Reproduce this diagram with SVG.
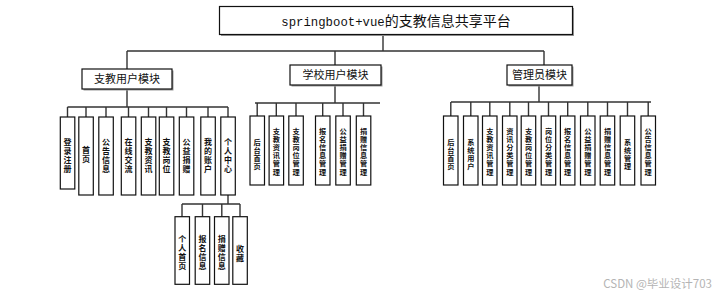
<svg xmlns="http://www.w3.org/2000/svg" width="727" height="299" viewBox="0 0 727 299">
<style>
.bg{fill:#fff}
.box{fill:#fff;stroke:#111;stroke-width:1.2}
.sh{fill:#9a9a9a}
.ln{stroke:#333;stroke-width:1.4;fill:none}
.t1{font-family:"Noto Sans CJK SC","Noto Sans",sans-serif;font-size:14px;fill:#111}
.mono{font-family:"Liberation Mono",monospace;font-size:12.3px}
.t2{font-family:"Noto Sans CJK SC",sans-serif;font-size:11px;fill:#111;text-anchor:middle}
.t3{font-family:"Liberation Sans","Noto Sans CJK SC",sans-serif;font-size:7.2px;font-weight:bold;fill:#111;text-anchor:middle}
.t4{font-family:"Liberation Sans","Noto Sans CJK SC",sans-serif;font-size:8px;font-weight:bold;fill:#111;text-anchor:middle}
.wm{font-family:"Noto Sans CJK SC",sans-serif;font-size:11.5px;fill:#b4b4b4;text-anchor:end}
</style>
<rect class="bg" x="0" y="0" width="727" height="299"/>
<g id="connectors">
<path class="ln" d="M383 34V51M127 51H544M127 51V69M335 51V65M544 51V65"/>
<path class="ln" d="M127 89V107M67.5 107H228M67.5 107V117M86 107V117M106 107V117M128.5 107V117M148.5 107V117M166.5 107V117M186.5 107V117M208 107V117M228 107V117"/>
<path class="ln" d="M228 195V204M182 204H240M182 204V216.7M202.5 204V216.7M221.8 204V216.7M240 204V216.7"/>
<path class="ln" d="M335 85V103M255 103H380M257.2 103V116M276.3 103V116M296 103V116M322.7 103V116M343 103V116M363.5 103V116"/>
<path class="ln" d="M539 85V102M451 102H651M450.8 102V116M470.8 102V116M489.8 102V116M509.8 102V116M528.5 102V116M548.5 102V116M567.7 102V116M587.8 102V116M607.5 102V116M627.5 102V116M648.2 102V116"/>
</g>
<g id="root">
<rect class="sh" x="221" y="8" width="353" height="28"/>
<rect class="box" x="219.5" y="6.5" width="353" height="28"/>
<text class="t1" x="396" y="25.5" text-anchor="middle"><tspan class="mono">springboot+vue</tspan>的支教信息共享平台</text>
</g>
<g id="m1">
<rect class="sh" x="83.5" y="70.5" width="90" height="20"/>
<rect class="box" x="82" y="69" width="90" height="20"/>
<text class="t2" x="127" y="83">支教用户模块</text>
</g>
<g id="m2">
<rect class="sh" x="291.5" y="66.5" width="91" height="20"/>
<rect class="box" x="290" y="65" width="91" height="20"/>
<text class="t2" x="335.5" y="79">学校用户模块</text>
</g>
<g id="m3">
<rect class="sh" x="508.5" y="66.5" width="65" height="20"/>
<rect class="box" x="507" y="65" width="65" height="20"/>
<text class="t2" x="539.5" y="79">管理员模块</text>
</g>
<g id="l1"><rect class="box" x="60.3" y="117" width="14.5" height="72"/><text class="t4"><tspan x="67.5" y="145">登</tspan><tspan x="67.5" y="154">录</tspan><tspan x="67.5" y="163">注</tspan><tspan x="67.5" y="172">册</tspan></text></g>
<g id="l2"><rect class="box" x="78.8" y="117" width="14.5" height="78"/><text class="t4"><tspan x="86" y="153">首</tspan><tspan x="86" y="162">页</tspan></text></g>
<g id="l3"><rect class="box" x="98.8" y="117" width="14.5" height="78"/><text class="t4"><tspan x="106" y="145">公</tspan><tspan x="106" y="154">告</tspan><tspan x="106" y="163">信</tspan><tspan x="106" y="172">息</tspan></text></g>
<g id="l4"><rect class="box" x="121.3" y="117" width="14.5" height="78"/><text class="t4"><tspan x="128.5" y="145">在</tspan><tspan x="128.5" y="154">线</tspan><tspan x="128.5" y="163">交</tspan><tspan x="128.5" y="172">流</tspan></text></g>
<g id="l5"><rect class="box" x="141.3" y="117" width="14.5" height="78"/><text class="t4"><tspan x="148.5" y="145">支</tspan><tspan x="148.5" y="154">教</tspan><tspan x="148.5" y="163">资</tspan><tspan x="148.5" y="172">讯</tspan></text></g>
<g id="l6"><rect class="box" x="159.3" y="117" width="14.5" height="78"/><text class="t4"><tspan x="166.5" y="145">支</tspan><tspan x="166.5" y="154">教</tspan><tspan x="166.5" y="163">岗</tspan><tspan x="166.5" y="172">位</tspan></text></g>
<g id="l7"><rect class="box" x="179.3" y="117" width="14.5" height="78"/><text class="t4"><tspan x="186.5" y="145">公</tspan><tspan x="186.5" y="154">益</tspan><tspan x="186.5" y="163">捐</tspan><tspan x="186.5" y="172">赠</tspan></text></g>
<g id="l8"><rect class="box" x="200.8" y="117" width="14.5" height="78"/><text class="t4"><tspan x="208" y="145">我</tspan><tspan x="208" y="154">的</tspan><tspan x="208" y="163">账</tspan><tspan x="208" y="172">户</tspan></text></g>
<g id="l9"><rect class="box" x="220.8" y="117" width="14.5" height="78"/><text class="t4"><tspan x="228" y="145">个</tspan><tspan x="228" y="154">人</tspan><tspan x="228" y="163">中</tspan><tspan x="228" y="172">心</tspan></text></g>
<g id="p1"><rect class="box" x="175" y="216.7" width="14.5" height="67.6"/><text class="t4"><tspan x="182.2" y="242">个</tspan><tspan x="182.2" y="251">人</tspan><tspan x="182.2" y="260">首</tspan><tspan x="182.2" y="269">页</tspan></text></g>
<g id="p2"><rect class="box" x="195.2" y="216.7" width="14.5" height="67.6"/><text class="t4"><tspan x="202.5" y="242">报</tspan><tspan x="202.5" y="251">名</tspan><tspan x="202.5" y="260">信</tspan><tspan x="202.5" y="269">息</tspan></text></g>
<g id="p3"><rect class="box" x="214.5" y="216.7" width="14.5" height="67.6"/><text class="t4"><tspan x="221.8" y="242">捐</tspan><tspan x="221.8" y="251">赠</tspan><tspan x="221.8" y="260">信</tspan><tspan x="221.8" y="269">息</tspan></text></g>
<g id="p4"><rect class="box" x="232.8" y="216.7" width="14.5" height="67.6"/><text class="t4"><tspan x="240" y="251.5">收</tspan><tspan x="240" y="260.5">藏</tspan></text></g>
<g id="s1"><rect class="box" x="250" y="116" width="14.5" height="69"/><text class="t3"><tspan x="257.2" y="144.5">后</tspan><tspan x="257.2" y="152.7">台</tspan><tspan x="257.2" y="160.9">首</tspan><tspan x="257.2" y="169.1">页</tspan></text></g>
<g id="s2"><rect class="box" x="269.1" y="116" width="14.5" height="69"/><text class="t3"><tspan x="276.3" y="134">支</tspan><tspan x="276.3" y="142.1">教</tspan><tspan x="276.3" y="150.2">资</tspan><tspan x="276.3" y="158.3">讯</tspan><tspan x="276.3" y="166.4">管</tspan><tspan x="276.3" y="174.5">理</tspan></text></g>
<g id="s3"><rect class="box" x="288.8" y="116" width="14.5" height="69"/><text class="t3"><tspan x="296" y="134">支</tspan><tspan x="296" y="142.1">教</tspan><tspan x="296" y="150.2">岗</tspan><tspan x="296" y="158.3">位</tspan><tspan x="296" y="166.4">管</tspan><tspan x="296" y="174.5">理</tspan></text></g>
<g id="s4"><rect class="box" x="315.5" y="116" width="14.5" height="69"/><text class="t3"><tspan x="322.7" y="134">报</tspan><tspan x="322.7" y="142.1">名</tspan><tspan x="322.7" y="150.2">信</tspan><tspan x="322.7" y="158.3">息</tspan><tspan x="322.7" y="166.4">管</tspan><tspan x="322.7" y="174.5">理</tspan></text></g>
<g id="s5"><rect class="box" x="335.8" y="116" width="14.5" height="69"/><text class="t3"><tspan x="343" y="134">公</tspan><tspan x="343" y="142.1">益</tspan><tspan x="343" y="150.2">捐</tspan><tspan x="343" y="158.3">赠</tspan><tspan x="343" y="166.4">管</tspan><tspan x="343" y="174.5">理</tspan></text></g>
<g id="s6"><rect class="box" x="356.3" y="116" width="14.5" height="69"/><text class="t3"><tspan x="363.5" y="134">捐</tspan><tspan x="363.5" y="142.1">赠</tspan><tspan x="363.5" y="150.2">信</tspan><tspan x="363.5" y="158.3">息</tspan><tspan x="363.5" y="166.4">管</tspan><tspan x="363.5" y="174.5">理</tspan></text></g>
<g id="a1"><rect class="box" x="443.5" y="116" width="14.5" height="69"/><text class="t3"><tspan x="450.8" y="144.5">后</tspan><tspan x="450.8" y="152.7">台</tspan><tspan x="450.8" y="160.9">首</tspan><tspan x="450.8" y="169.1">页</tspan></text></g>
<g id="a2"><rect class="box" x="463.5" y="116" width="14.5" height="69"/><text class="t3"><tspan x="470.8" y="144.5">系</tspan><tspan x="470.8" y="152.7">统</tspan><tspan x="470.8" y="160.9">用</tspan><tspan x="470.8" y="169.1">户</tspan></text></g>
<g id="a3"><rect class="box" x="482.5" y="116" width="14.5" height="69"/><text class="t3"><tspan x="489.8" y="134">支</tspan><tspan x="489.8" y="142.1">教</tspan><tspan x="489.8" y="150.2">资</tspan><tspan x="489.8" y="158.3">讯</tspan><tspan x="489.8" y="166.4">管</tspan><tspan x="489.8" y="174.5">理</tspan></text></g>
<g id="a4"><rect class="box" x="502.5" y="116" width="14.5" height="69"/><text class="t3"><tspan x="509.8" y="134">资</tspan><tspan x="509.8" y="142.1">讯</tspan><tspan x="509.8" y="150.2">分</tspan><tspan x="509.8" y="158.3">类</tspan><tspan x="509.8" y="166.4">管</tspan><tspan x="509.8" y="174.5">理</tspan></text></g>
<g id="a5"><rect class="box" x="521.2" y="116" width="14.5" height="69"/><text class="t3"><tspan x="528.5" y="134">支</tspan><tspan x="528.5" y="142.1">教</tspan><tspan x="528.5" y="150.2">岗</tspan><tspan x="528.5" y="158.3">位</tspan><tspan x="528.5" y="166.4">管</tspan><tspan x="528.5" y="174.5">理</tspan></text></g>
<g id="a6"><rect class="box" x="541.2" y="116" width="14.5" height="69"/><text class="t3"><tspan x="548.5" y="134">岗</tspan><tspan x="548.5" y="142.1">位</tspan><tspan x="548.5" y="150.2">分</tspan><tspan x="548.5" y="158.3">类</tspan><tspan x="548.5" y="166.4">管</tspan><tspan x="548.5" y="174.5">理</tspan></text></g>
<g id="a7"><rect class="box" x="560.4" y="116" width="14.5" height="69"/><text class="t3"><tspan x="567.7" y="134">报</tspan><tspan x="567.7" y="142.1">名</tspan><tspan x="567.7" y="150.2">信</tspan><tspan x="567.7" y="158.3">息</tspan><tspan x="567.7" y="166.4">管</tspan><tspan x="567.7" y="174.5">理</tspan></text></g>
<g id="a8"><rect class="box" x="580.5" y="116" width="14.5" height="69"/><text class="t3"><tspan x="587.8" y="134">公</tspan><tspan x="587.8" y="142.1">益</tspan><tspan x="587.8" y="150.2">捐</tspan><tspan x="587.8" y="158.3">赠</tspan><tspan x="587.8" y="166.4">管</tspan><tspan x="587.8" y="174.5">理</tspan></text></g>
<g id="a9"><rect class="box" x="600.2" y="116" width="14.5" height="69"/><text class="t3"><tspan x="607.5" y="134">捐</tspan><tspan x="607.5" y="142.1">赠</tspan><tspan x="607.5" y="150.2">信</tspan><tspan x="607.5" y="158.3">息</tspan><tspan x="607.5" y="166.4">管</tspan><tspan x="607.5" y="174.5">理</tspan></text></g>
<g id="a10"><rect class="box" x="620.2" y="116" width="14.5" height="69"/><text class="t3"><tspan x="627.5" y="144.5">系</tspan><tspan x="627.5" y="152.7">统</tspan><tspan x="627.5" y="160.9">管</tspan><tspan x="627.5" y="169.1">理</tspan></text></g>
<g id="a11"><rect class="box" x="641" y="116" width="14.5" height="69"/><text class="t3"><tspan x="648.2" y="134">公</tspan><tspan x="648.2" y="142.1">告</tspan><tspan x="648.2" y="150.2">信</tspan><tspan x="648.2" y="158.3">息</tspan><tspan x="648.2" y="166.4">管</tspan><tspan x="648.2" y="174.5">理</tspan></text></g>
<text class="wm" x="712" y="288">CSDN @毕业设计703</text>
</svg>
